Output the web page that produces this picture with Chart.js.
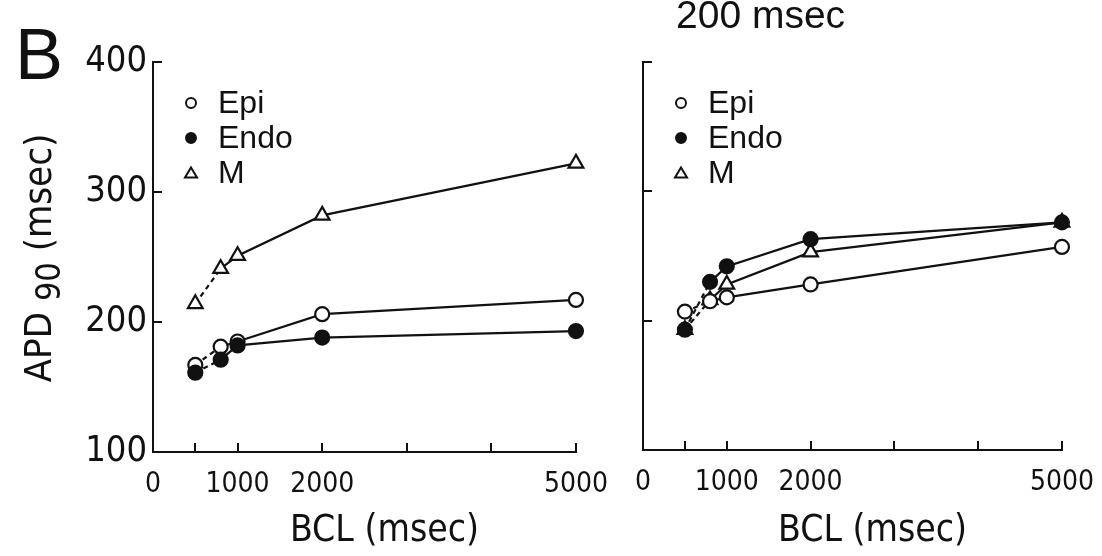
<!DOCTYPE html>
<html>
<head>
<meta charset="utf-8">
<script src="https://cdn.jsdelivr.net/npm/chart.js"></script>
<style>
  body { margin: 0; background: #fff; }
  #wrap { position: relative; width: 1102px; height: 556px; overflow: hidden; background: #fff; }
  #leftBox { position: absolute; left: 0; top: 0; width: 633px; height: 556px; }
  #rightBox { position: absolute; left: 610px; top: 0; width: 509px; height: 556px; }
</style>
</head>
<body>
<div id="wrap">
  <div id="leftBox"><canvas id="leftChart" width="633" height="556"></canvas></div>
  <div id="rightBox"><canvas id="rightChart" width="509" height="556"></canvas></div>
</div>
<script>
'use strict';

// BCL (msec) used for every series
let bcl = [500, 800, 1000, 2000, 5000];

// left panel
let epiLeft = [167, 181, 185, 206, 217];
let endoLeft = [161, 171, 182, 188, 193];
let mLeft = [214, 241, 251, 282, 322];

// right panel (200 msec)
let epiRight = [207, 215, 218, 228, 257];
let endoRight = [193, 230, 242, 263, 276];
let mRight = [193, 216, 228, 253, 276];

let seriesNames = ['Epi', 'Endo', 'M'];
let xTickValues = [0, 500, 1000, 2000, 3000, 4000, 5000];
let xTickLabels = ['0', '', '1000', '2000', '', '', '5000'];
let yTickValues = [100, 200, 300, 400];
let xTitle = 'BCL (msec)';
let panelLabel = 'B';
let rightHeading = '200 msec';

let narrow = "'Liberation Sans Narrow', 'Arial Narrow', 'DejaVu Sans Condensed', 'Liberation Sans', sans-serif";
let plain = "'Liberation Sans', Arial, sans-serif";

let styles = {
  Epi: { pointStyle: 'circle', fill: '#fff', radius: 7, order: 1 },
  Endo: { pointStyle: 'circle', fill: '#111', radius: 7, order: 0 },
  M: { pointStyle: 'triangle', fill: '#fff', radius: 8.5, order: 2 }
};

function makeDataset(name, values) {
  let s = styles[name];
  return {
    label: name,
    data: bcl.map((x, i) => ({ x: x, y: values[i] })),
    borderColor: '#111',
    borderWidth: 2.2,
    tension: 0,
    clip: false,
    pointStyle: s.pointStyle,
    pointRadius: s.radius,
    pointBackgroundColor: s.fill,
    pointBorderColor: '#111',
    pointBorderWidth: 2.2,
    order: s.order,
    segment: {
      borderDash: ctx => ctx.p0DataIndex === 0 ? [5, 4] : undefined
    }
  };
}

function drawMarker(ctx, name, x, y) {
  let s = styles[name];
  ctx.save();
  ctx.lineWidth = 2;
  ctx.strokeStyle = '#111';
  ctx.fillStyle = s.fill;
  ctx.beginPath();
  if (s.pointStyle === 'circle') {
    ctx.arc(x, y, 5, 0, Math.PI * 2);
  } else {
    ctx.moveTo(x, y - 5.5);
    ctx.lineTo(x + 6, y + 4.5);
    ctx.lineTo(x - 6, y + 4.5);
    ctx.closePath();
  }
  ctx.fill();
  ctx.stroke();
  ctx.restore();
}

// legend, axis titles and loose labels
function decorPlugin(opts) {
  return {
    id: 'decor',
    afterDraw(chart) {
      let ctx = chart.ctx;
      let area = chart.chartArea;
      ctx.save();
      ctx.fillStyle = '#111';

      ctx.font = '32px ' + plain;
      ctx.textBaseline = 'middle';
      ctx.textAlign = 'left';
      for (let i = 0; i < seriesNames.length; i++) {
        let y = 103 + i * 35;
        drawMarker(ctx, seriesNames[i], area.left + 38, y);
        ctx.fillText(seriesNames[i], area.left + 65, y + 1);
      }

      ctx.font = '37px ' + narrow;
      ctx.textAlign = 'center';
      ctx.fillText(xTitle, (area.left + area.right) / 2 + 20, 531);

      if (opts.yTitle) {
        ctx.save();
        ctx.translate(45, 258);
        ctx.rotate(-Math.PI / 2);
        ctx.textAlign = 'left';
        let a = 'APD ';
        let sub = '90';
        let b = ' (msec)';
        ctx.font = '38px ' + narrow;
        let wa = ctx.measureText(a).width;
        let wb = ctx.measureText(b).width;
        ctx.font = '34px ' + narrow;
        let ws = ctx.measureText(sub).width;
        let start = -(wa + ws + wb) / 2;
        ctx.font = '38px ' + narrow;
        ctx.fillText(a, start, -4);
        ctx.font = '34px ' + narrow;
        ctx.fillText(sub, start + wa, 6);
        ctx.font = '38px ' + narrow;
        ctx.fillText(b, start + wa + ws, -4);
        ctx.restore();
      }

      if (opts.panel) {
        ctx.font = '72px ' + plain;
        ctx.textAlign = 'left';
        ctx.textBaseline = 'alphabetic';
        ctx.fillText(panelLabel, 15, 79);
      }
      if (opts.heading) {
        ctx.font = '39px ' + plain;
        ctx.textAlign = 'left';
        ctx.textBaseline = 'alphabetic';
        ctx.fillText(rightHeading, 66, 28);
      }
      ctx.restore();
    }
  };
}

function makeChart(canvasId, epi, endo, m, opts) {
  let ctx = document.getElementById(canvasId).getContext('2d');
  return new Chart(ctx, {
    type: 'line',
    data: {
      datasets: [
        makeDataset('Epi', epi),
        makeDataset('Endo', endo),
        makeDataset('M', m)
      ]
    },
    options: {
      responsive: false,
      animation: false,
      devicePixelRatio: 1,
      layout: { padding: { top: 62, right: 0, left: 0, bottom: 0 } },
      plugins: {
        legend: { display: false },
        tooltip: { enabled: false }
      },
      scales: {
        x: {
          type: 'linear',
          min: 0,
          max: 5000,
          afterBuildTicks: scale => { scale.ticks = xTickValues.map(v => ({ value: v })); },
          afterFit: scale => { scale.height = opts.xHeight; },
          ticks: {
            autoSkip: false,
            maxRotation: 0,
            padding: 25,
            color: '#111',
            font: { family: narrow, size: 28 },
            callback: (value, index) => xTickLabels[index]
          },
          grid: { drawOnChartArea: false, drawTicks: true, tickLength: -9, color: '#111', lineWidth: 2 },
          border: { color: '#111', width: 2 }
        },
        y: {
          type: 'linear',
          min: 100,
          max: 400,
          afterBuildTicks: scale => { scale.ticks = yTickValues.map(v => ({ value: v })); },
          afterFit: scale => { scale.width = opts.yWidth; },
          ticks: {
            autoSkip: false,
            padding: 15,
            color: '#111',
            font: { family: narrow, size: 36 },
            callback: value => opts.yLabels ? String(value) : ''
          },
          grid: { drawOnChartArea: false, drawTicks: true, tickLength: -9, color: '#111', lineWidth: 2 },
          border: { color: '#111', width: 2 }
        }
      }
    },
    plugins: [decorPlugin(opts)]
  });
}

makeChart('leftChart', epiLeft, endoLeft, mLeft, {
  xHeight: 104, yWidth: 153, yLabels: true, yTitle: true, panel: true, heading: false
});
makeChart('rightChart', epiRight, endoRight, mRight, {
  xHeight: 106, yWidth: 30, yLabels: false, yTitle: false, panel: false, heading: true
});
</script>
</body>
</html>
